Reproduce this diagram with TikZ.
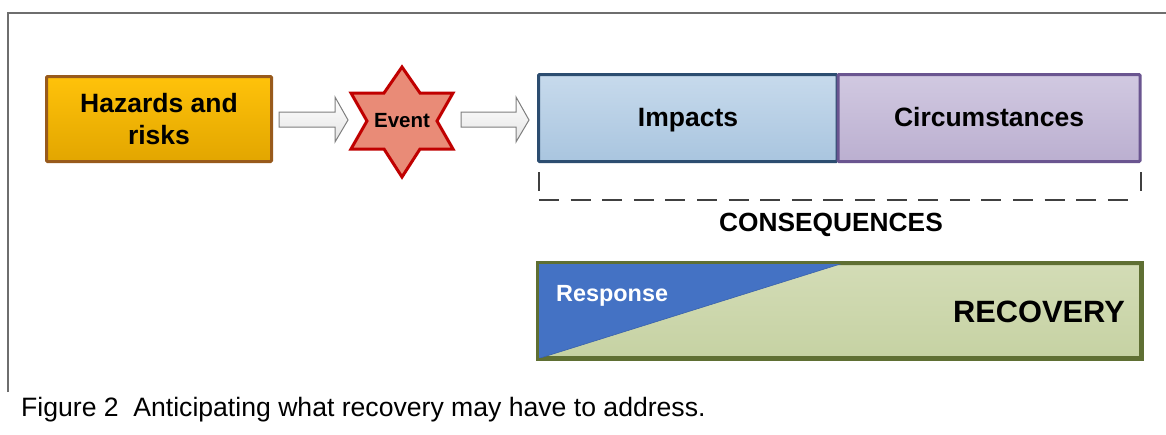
\documentclass[tikz,border=0pt]{standalone}
\usepackage{fontspec}
\setmainfont{Liberation Sans}
\definecolor{framegray}{HTML}{6E6E6E}
\definecolor{hazline}{HTML}{985A1C}
\definecolor{hazTop}{HTML}{FFC20A}
\definecolor{hazBot}{HTML}{E2A600}
\definecolor{starline}{HTML}{C00000}
\definecolor{starfill}{HTML}{E98B77}
\definecolor{arrowline}{HTML}{7F7F7F}
\definecolor{arrowbot}{HTML}{E4E4E4}
\definecolor{impline}{HTML}{2C4D70}
\definecolor{impTop}{HTML}{C7DAEC}
\definecolor{impBot}{HTML}{A9C5DF}
\definecolor{cirline}{HTML}{6A5590}
\definecolor{cirTop}{HTML}{D1C9E1}
\definecolor{cirBot}{HTML}{BBAFD0}
\definecolor{recline}{HTML}{5F6F33}
\definecolor{recTop}{HTML}{D3DCB6}
\definecolor{recBot}{HTML}{C6D2A3}
\definecolor{respblue}{HTML}{4472C4}
\definecolor{respline}{HTML}{3A62AA}
\definecolor{brackgray}{HTML}{404040}
\begin{document}
\begin{tikzpicture}[x=1pt,y=-1pt,
  lbl/.style={font=\bfseries\fontsize{26.5}{32}\selectfont, align=center, text=black},
  box/.style={draw, line width=3pt, rounded corners=1pt, inner sep=0pt},
  blockarrow/.style={draw=arrowline, line width=1pt, line join=miter, top color=white, bottom color=arrowbot},
  brack/.style={draw=brackgray, line width=2.5pt},
]
\useasboundingbox (0,0) rectangle (1166,434);
\fill[white] (0,0) rectangle (1166,434);
\draw[framegray, line width=1.3pt] (8,392) -- (8,13) -- (1167,13);

% Hazards
\node[box, lbl, draw=hazline, top color=hazTop, bottom color=hazBot,
      minimum width=225pt, minimum height=85pt] (haz) at (159,119) {Hazards and\\risks};

% arrow 1
\draw[blockarrow] (279,112) -- (335,112) -- (335,97) -- (348,120) -- (335,142) -- (335,127) -- (279,127) -- cycle;

% Event star
\draw[draw=starline, fill=starfill, line width=3pt, line join=miter]
  (402,67) -- (420,93) -- (453,93) -- (437,121) -- (453,149) -- (420,149) --
  (402,177) -- (384,149) -- (351,149) -- (367,121) -- (351,93) -- (384,93) -- cycle;
\node[font=\bfseries\fontsize{20.5}{24}\selectfont, inner sep=0pt] (event) at (402,121) {Event};

% arrow 2
\draw[blockarrow] (461,112) -- (516,112) -- (516,97) -- (529,120) -- (516,142) -- (516,127) -- (461,127) -- cycle;

% Impacts / Circumstances
\node[box, draw=impline, top color=impTop, bottom color=impBot,
      minimum width=298.5pt, minimum height=87pt] (imp) at (687.75,118) {};
\node[box, draw=cirline, top color=cirTop, bottom color=cirBot,
      minimum width=302pt, minimum height=87pt] (cir) at (989,118) {};
\node[lbl, anchor=base, inner sep=0pt] (impt) at (688,126) {Impacts};
\node[lbl, anchor=base, inner sep=0pt] (cirt) at (989,126) {Circumstances};

% bracket
\coordinate (bl1) at (539,172);
\coordinate (bl2) at (539,191);
\coordinate (br1) at (1141,172);
\coordinate (br2) at (1141,191);
\coordinate (dl) at (539,200);
\coordinate (dr) at (1138,200);
\draw[brack] (bl1) -- (bl2);
\draw[brack] (br1) -- (br2);
\draw[brack, dash pattern=on 20pt off 11.6pt] (dl) -- (dr);
\node[anchor=base, inner sep=0pt, font=\bfseries\fontsize{26.3}{30}\selectfont] (cons) at (831,231) {CONSEQUENCES};

% Recovery
\node[box, draw=recline, top color=recTop, bottom color=recBot,
      minimum width=602pt, minimum height=94pt] (rec) at (839.5,310.5) {};
\coordinate (tri) at (842,263.5);
\filldraw[fill=respblue, draw=respline, line width=0.6pt] (rec.north west) -- (tri) -- (rec.south west) -- cycle;
\draw[recline, line width=3pt] (rec.north west) rectangle (rec.south east);
\node[anchor=base west, inner sep=0pt, text=white, font=\bfseries\fontsize{23.4}{28}\selectfont] (resp) at (556,301) {Response};
\node[anchor=base east, inner sep=0pt, font=\bfseries\fontsize{30.8}{36}\selectfont] (recov) at (1125,322) {RECOVERY};

% caption
\node[anchor=base west, inner sep=0pt, font=\fontsize{26.6}{30}\selectfont] (cap) at (21,416) {Figure 2\hspace{0.55em}Anticipating what recovery may have to address.};
\end{tikzpicture}
\end{document}
